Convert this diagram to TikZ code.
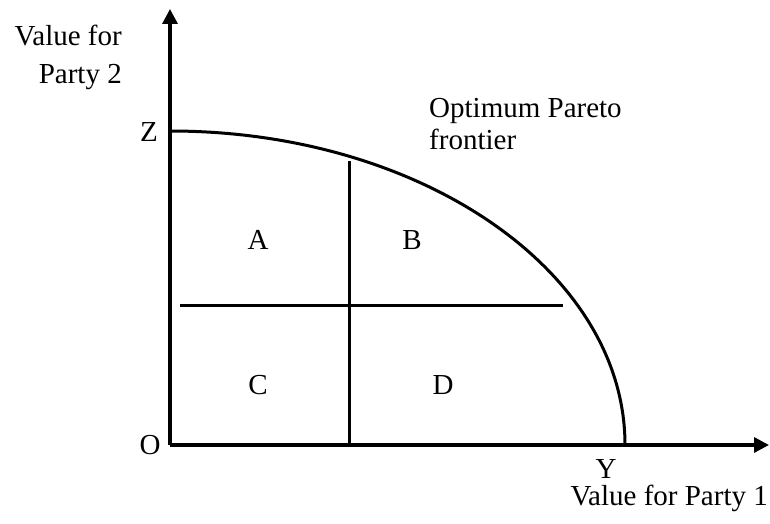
\documentclass[tikz,border=0pt]{standalone}
\usepackage{fontspec}
\setmainfont{Liberation Serif}
\usetikzlibrary{arrows.meta}
\begin{document}
\begin{tikzpicture}[x=1pt,y=1pt,
  lbl/.style={inner sep=0pt,font=\fontsize{29}{32}\selectfont},
  axisline/.style={line width=3.2pt,-{Triangle[length=15pt,width=15pt]}},
  plain/.style={line width=3pt}]
\useasboundingbox (0,0) rectangle (770,524);
\coordinate (O) at (170,79);
\coordinate (ytop) at (170,515);
\coordinate (xend) at (769,79);
\coordinate (Zp) at (170,393);
\coordinate (vb) at (349,79);
\coordinate (vt) at (349,363);
\coordinate (hl) at (180,218);
\coordinate (hr) at (563,218);
\draw[axisline] (O) -- (ytop);
\draw[axisline] (O) -- (xend);
\draw[plain] (Zp) arc[start angle=90,end angle=0,x radius=455,y radius=314];
\draw[plain] (vb) -- (vt);
\draw[plain] (hl) -- (hr);
\node[lbl,anchor=center] (A) at (258,284) {A};
\node[lbl,anchor=center] (B) at (412,284) {B};
\node[lbl,anchor=center] (C) at (258,139) {C};
\node[lbl,anchor=center] (D) at (443,139) {D};
\node[lbl,anchor=center] (Ol) at (150,79) {O};
\node[lbl,anchor=center] (Zl) at (149,392) {Z};
\node[lbl,anchor=center] (Yl) at (606,55) {Y};
\node[lbl,anchor=base east] (xl) at (768,18) {Value for Party 1};
\node[lbl,anchor=north east,align=right,font=\fontsize{29}{38}\selectfont] (yl) at (122,499) {Value for\\Party 2};
\node[lbl,anchor=north west,align=left] (pf) at (429,426) {Optimum Pareto\\frontier};
\end{tikzpicture}
\end{document}
